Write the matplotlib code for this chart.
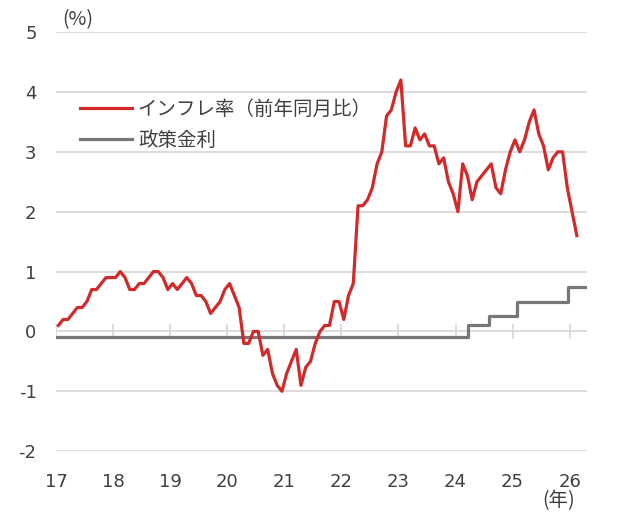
import numpy as np
import matplotlib.pyplot as plt

# Japan CPI (excl. fresh food) y/y, monthly from Jan 2017 to Feb 2026
inflation = [
    0.1, 0.2, 0.2, 0.3, 0.4, 0.4, 0.5, 0.7, 0.7, 0.8, 0.9, 0.9,    # 2017
    0.9, 1.0, 0.9, 0.7, 0.7, 0.8, 0.8, 0.9, 1.0, 1.0, 0.9, 0.7,    # 2018
    0.8, 0.7, 0.8, 0.9, 0.8, 0.6, 0.6, 0.5, 0.3, 0.4, 0.5, 0.7,    # 2019
    0.8, 0.6, 0.4, -0.2, -0.2, 0.0, 0.0, -0.4, -0.3, -0.7, -0.9, -1.0,  # 2020
    -0.7, -0.5, -0.3, -0.9, -0.6, -0.5, -0.2, 0.0, 0.1, 0.1, 0.5, 0.5,  # 2021
    0.2, 0.6, 0.8, 2.1, 2.1, 2.2, 2.4, 2.8, 3.0, 3.6, 3.7, 4.0,    # 2022
    4.2, 3.1, 3.1, 3.4, 3.2, 3.3, 3.1, 3.1, 2.8, 2.9, 2.5, 2.3,    # 2023
    2.0, 2.8, 2.6, 2.2, 2.5, 2.6, 2.7, 2.8, 2.4, 2.3, 2.7, 3.0,    # 2024
    3.2, 3.0, 3.2, 3.5, 3.7, 3.3, 3.1, 2.7, 2.9, 3.0, 3.0, 2.4,    # 2025
    2.0, 1.6,                                                      # 2026
]
months = 2017 + (np.arange(len(inflation)) + 0.5) / 12

# policy rate change points (fractional years)
rate_dates = [2017.0, 2024.21, 2024.58, 2025.07, 2025.97, 2026.3]
rate_values = [-0.1, 0.1, 0.25, 0.5, 0.75, 0.75]

years = list(range(2017, 2027))
year_labels = [str(y)[2:] for y in years]

plt.rcParams['font.family'] = ['DejaVu Sans', 'Noto Sans CJK JP']
txt = '#404040'
grid = '#d9d9d9'
jp = ['Noto Sans CJK JP', 'DejaVu Sans']

fig = plt.figure(figsize=(6.19, 5.18), dpi=100)
ax = fig.add_axes([0.0905, 0.129, 0.8575, 0.809])

for v in range(-2, 6):
    ax.axhline(v, color=grid, lw=1.3, zorder=1)
ax.vlines(years, -0.13, 0.13, color=grid, lw=1.3, zorder=1)

ax.plot(months, inflation, color='#d12a2a', lw=2.3, zorder=3,
        label='インフレ率（前年同月比）')
ax.plot(rate_dates, rate_values, drawstyle='steps-post', color='#777777',
        lw=2.3, zorder=2, label='政策金利')

ax.set_xlim(2017.0, 2026.3)
ax.set_ylim(-2, 5)
ax.set_yticks(range(-2, 6))
ax.set_yticklabels([str(v) for v in range(-2, 6)])
ax.set_xticks(years)
ax.set_xticklabels(year_labels)
ax.tick_params(axis='both', length=0, labelsize=13, colors=txt)
ax.tick_params(axis='y', pad=14)
ax.tick_params(axis='x', pad=16)
for s in ax.spines.values():
    s.set_visible(False)

fig.text(0.100, 0.962, '(%)', fontsize=14, color=txt, ha='left', va='center',
         family=jp)
fig.text(0.903, 0.034, '(年)', fontsize=14, color=txt, ha='center', va='center',
         family=jp)

leg = ax.legend(loc='upper left', bbox_to_anchor=(0.045, 0.84), frameon=False,
                handlelength=2.7, handletextpad=0.28, labelspacing=0.5,
                borderpad=0, borderaxespad=0,
                prop={'family': jp, 'size': 14})
for t in leg.get_texts():
    t.set_color(txt)

fig.savefig('out.png', dpi=100)
